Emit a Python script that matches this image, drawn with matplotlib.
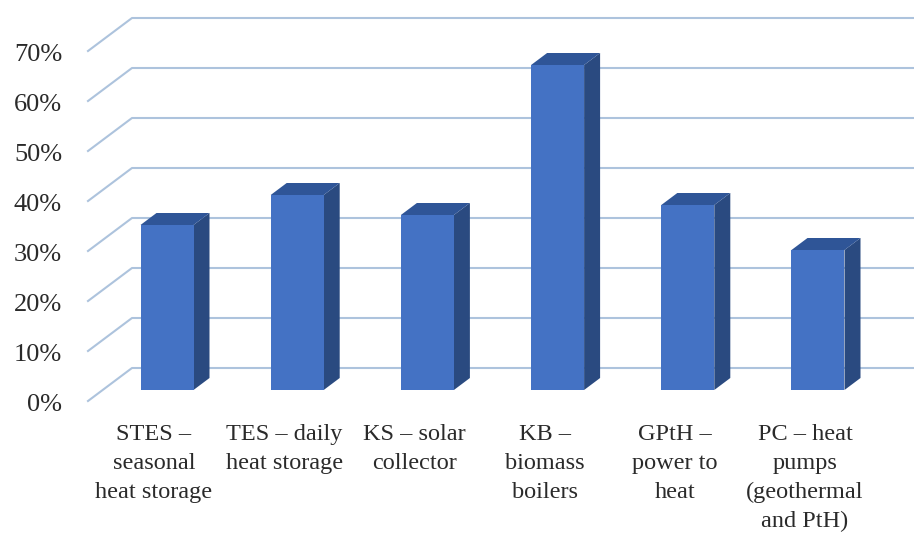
import matplotlib.pyplot as plt
from matplotlib.patches import Polygon

categories = [
    'STES –\nseasonal\nheat storage',
    'TES – daily\nheat storage',
    'KS – solar\ncollector',
    'KB –\nbiomass\nboilers',
    'GPtH –\npower to\nheat',
    'PC – heat\npumps\n(geothermal\nand PtH)',
]
values = [33, 39, 35, 65, 37, 28]
y_ticks = [0, 10, 20, 30, 40, 50, 60, 70]

plt.rcParams['font.family'] = ['Liberation Serif', 'DejaVu Serif']

# pixel size of the picture and scale of the axes
W, H = 914, 533
unit_x = 130.2
unit_y = 5.0
first_bar = 167
zero_y = 401

fig = plt.figure(figsize=(W / 100, H / 100), dpi=100)
ax = fig.add_axes([0, 0, 1, 1])
ax.set_xlim(-first_bar / unit_x, (W - first_bar) / unit_x)
ax.set_ylim(-(H - zero_y) / unit_y, zero_y / unit_y)
ax.axis('off')

# depth of the pseudo 3d walls, in data units
wall_dx = 44 / unit_x
wall_dy = 33 / unit_y
bar_dx = 16 / unit_x
bar_dy = 12 / unit_y
bar_base = 11 / unit_y
bar_w = 53 / unit_x
left = -79 / unit_x

for t in y_ticks:
    ax.plot(
        [left, left + wall_dx, ax.get_xlim()[1]],
        [t, t + wall_dy, t + wall_dy],
        color='#adc3dd', lw=1.5, zorder=1
    )
    ax.text(
        left - 26 / unit_x, t - 4 / unit_y, f'{t}%',
        ha='right', va='center', fontsize=19, color='#2a2a2a'
    )

for i, v in enumerate(values):
    x0 = i - bar_w / 2
    x1 = i + bar_w / 2
    y0 = bar_base
    y1 = bar_base + v
    ax.add_patch(Polygon(
        [(x1, y0), (x1 + bar_dx, y0 + bar_dy), (x1 + bar_dx, y1 + bar_dy), (x1, y1)],
        facecolor='#2a4a80', zorder=3
    ))
    ax.add_patch(Polygon(
        [(x0, y1), (x0 + bar_dx, y1 + bar_dy), (x1 + bar_dx, y1 + bar_dy), (x1, y1)],
        facecolor='#2f5597', zorder=3
    ))
    ax.bar(i, v, width=bar_w, bottom=y0, color='#4472c4', zorder=4)
    # labels sit a bit left of the bars in the original
    ax.text(
        i - 13 / unit_x, -4.6, categories[i], ha='center', va='top',
        fontsize=17.5, color='#2a2a2a', linespacing=1.5
    )

fig.savefig('out.png', dpi=100)
